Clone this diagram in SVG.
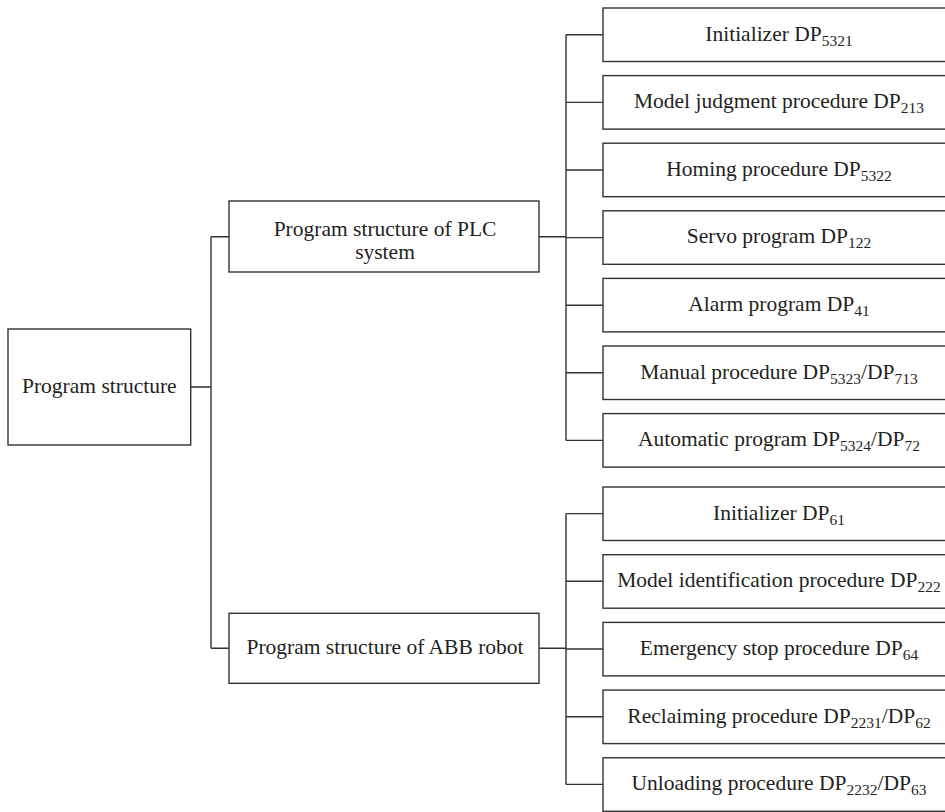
<svg xmlns="http://www.w3.org/2000/svg" width="945" height="812" viewBox="0 0 945 812">
  <style>
    .box { fill: #ffffff; stroke: #333333; stroke-width: 1.4; }
    .lbl { font-family: "Liberation Serif", "Times New Roman", serif; font-size: 21.5px; fill: #231f20; text-anchor: middle; }
    .sub { font-size: 15.5px; }
    .wire { fill: none; stroke: #333333; stroke-width: 1.4; }
  </style>
  <rect width="945" height="812" fill="#ffffff"/>

  <!-- connectors -->
  <g id="connectors" class="wire">
    <!-- root to second level -->
    <path d="M190.7,387 H211 M211,236.7 V648.3 M211,236.7 H229 M211,648.3 H229"/>
    <!-- PLC branch -->
    <path d="M539,236.7 H566 M566,34.8 V440.4"/>
    <path d="M566,34.8 H603 M566,102.4 H603 M566,170 H603 M566,237.6 H603 M566,305.2 H603 M566,372.8 H603 M566,440.4 H603"/>
    <!-- ABB branch -->
    <path d="M539,648.3 H566 M566,513.6 V784.4"/>
    <path d="M566,513.6 H603 M566,581.3 H603 M566,649 H603 M566,716.7 H603 M566,784.4 H603"/>
  </g>

  <!-- root -->
  <g id="root">
    <rect class="box" x="8" y="329" width="182.7" height="116"/>
    <text class="lbl" x="99.3" y="393">Program structure</text>
  </g>

  <!-- second level -->
  <g id="plc">
    <rect class="box" x="229" y="201" width="310" height="71"/>
    <text class="lbl" x="385" y="235.7">Program structure of PLC</text>
    <text class="lbl" x="385" y="258.5">system</text>
  </g>
  <g id="abb">
    <rect class="box" x="229" y="613.3" width="310" height="70"/>
    <text class="lbl" x="385" y="654.3">Program structure of ABB robot</text>
  </g>

  <!-- PLC programs -->
  <g id="plc-init">
    <rect class="box" x="603" y="8" width="360" height="53.5"/>
    <text class="lbl" x="779" y="40.5">Initializer DP<tspan class="sub" dy="5">5321</tspan></text>
  </g>
  <g id="plc-model">
    <rect class="box" x="603" y="75.6" width="360" height="53.5"/>
    <text class="lbl" x="779" y="108.1">Model judgment procedure DP<tspan class="sub" dy="5">213</tspan></text>
  </g>
  <g id="plc-homing">
    <rect class="box" x="603" y="143.2" width="360" height="53.5"/>
    <text class="lbl" x="779" y="175.7">Homing procedure DP<tspan class="sub" dy="5">5322</tspan></text>
  </g>
  <g id="plc-servo">
    <rect class="box" x="603" y="210.8" width="360" height="53.5"/>
    <text class="lbl" x="779" y="243.3">Servo program DP<tspan class="sub" dy="5">122</tspan></text>
  </g>
  <g id="plc-alarm">
    <rect class="box" x="603" y="278.4" width="360" height="53.5"/>
    <text class="lbl" x="779" y="310.9">Alarm program DP<tspan class="sub" dy="5">41</tspan></text>
  </g>
  <g id="plc-manual">
    <rect class="box" x="603" y="346" width="360" height="53.5"/>
    <text class="lbl" x="779" y="378.5">Manual procedure DP<tspan class="sub" dy="5">5323</tspan><tspan dy="-5">/DP</tspan><tspan class="sub" dy="5">713</tspan></text>
  </g>
  <g id="plc-auto">
    <rect class="box" x="603" y="413.6" width="360" height="53.5"/>
    <text class="lbl" x="779" y="446.1">Automatic program DP<tspan class="sub" dy="5">5324</tspan><tspan dy="-5">/DP</tspan><tspan class="sub" dy="5">72</tspan></text>
  </g>

  <!-- ABB robot programs -->
  <g id="abb-init">
    <rect class="box" x="603" y="487" width="360" height="53.5"/>
    <text class="lbl" x="779" y="519.5">Initializer DP<tspan class="sub" dy="5">61</tspan></text>
  </g>
  <g id="abb-model">
    <rect class="box" x="603" y="554.7" width="360" height="53.5"/>
    <text class="lbl" x="779" y="587.2">Model identification procedure DP<tspan class="sub" dy="5">222</tspan></text>
  </g>
  <g id="abb-estop">
    <rect class="box" x="603" y="622.4" width="360" height="53.5"/>
    <text class="lbl" x="779" y="654.9">Emergency stop procedure DP<tspan class="sub" dy="5">64</tspan></text>
  </g>
  <g id="abb-reclaim">
    <rect class="box" x="603" y="690.1" width="360" height="53.5"/>
    <text class="lbl" x="779" y="722.6">Reclaiming procedure DP<tspan class="sub" dy="5">2231</tspan><tspan dy="-5">/DP</tspan><tspan class="sub" dy="5">62</tspan></text>
  </g>
  <g id="abb-unload">
    <rect class="box" x="603" y="757.8" width="360" height="53.5"/>
    <text class="lbl" x="779" y="790.3">Unloading procedure DP<tspan class="sub" dy="5">2232</tspan><tspan dy="-5">/DP</tspan><tspan class="sub" dy="5">63</tspan></text>
  </g>
</svg>
